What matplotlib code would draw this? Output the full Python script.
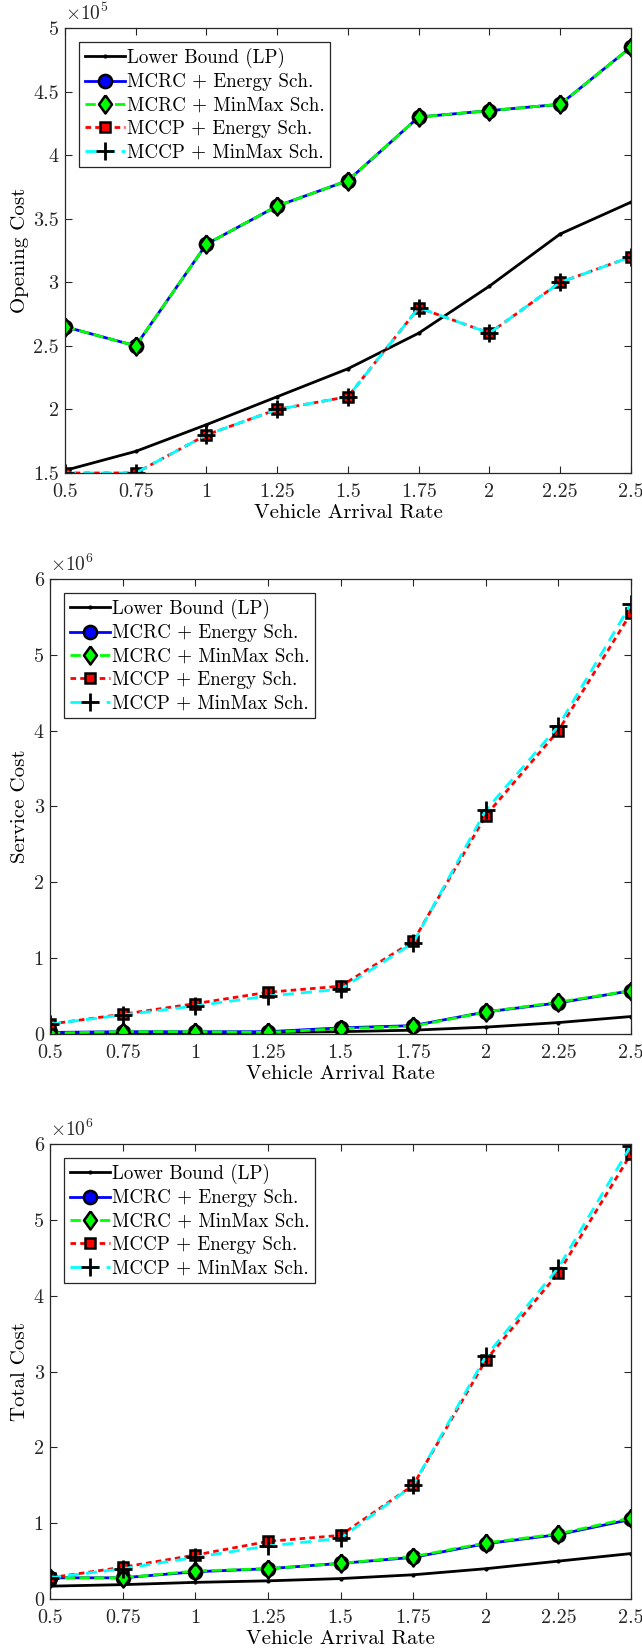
import numpy as np
import matplotlib
matplotlib.use("Agg")
import matplotlib.pyplot as plt
from matplotlib.ticker import FuncFormatter

# ========================
# STYLE
# ========================
plt.rcParams['font.family'] = ['cmr10', 'DejaVu Serif']
plt.rcParams['mathtext.fontset'] = 'cm'
plt.rcParams['axes.formatter.use_mathtext'] = True
plt.rcParams['font.size'] = 14
AX_COLOR = "#262626"

# ========================
# DATA
# ========================
rate = [0.5, 0.75, 1, 1.25, 1.5, 1.75, 2, 2.25, 2.5]
labels = ["Lower Bound (LP)", "MCRC + Energy Sch.", "MCRC + MinMax Sch.",
          "MCCP + Energy Sch.", "MCCP + MinMax Sch."]

# opening cost, x1e5
open_lp = [1.52, 1.67, 1.88, 2.10, 2.32, 2.60, 2.97, 3.38, 3.63]
open_mcrc_energy = [2.65, 2.50, 3.30, 3.60, 3.80, 4.30, 4.35, 4.40, 4.85]
open_mcrc_minmax = [2.65, 2.50, 3.30, 3.60, 3.80, 4.30, 4.35, 4.40, 4.85]
open_mccp_energy = [1.50, 1.50, 1.80, 2.00, 2.10, 2.80, 2.60, 3.00, 3.20]
open_mccp_minmax = [1.50, 1.50, 1.80, 2.00, 2.10, 2.80, 2.60, 3.00, 3.20]

# service cost, x1e6
serv_lp = [0.0, 0.01, 0.01, 0.02, 0.03, 0.05, 0.09, 0.15, 0.23]
serv_mcrc_energy = [0.02, 0.03, 0.03, 0.03, 0.08, 0.11, 0.29, 0.41, 0.57]
serv_mcrc_minmax = [0.01, 0.03, 0.03, 0.02, 0.07, 0.10, 0.29, 0.42, 0.57]
serv_mccp_energy = [0.13, 0.26, 0.40, 0.55, 0.63, 1.22, 2.88, 4.00, 5.55]
serv_mccp_minmax = [0.13, 0.25, 0.37, 0.50, 0.59, 1.20, 2.95, 4.06, 5.67]

# total cost, x1e6
tot_lp = [0.17, 0.19, 0.22, 0.24, 0.27, 0.32, 0.40, 0.50, 0.60]
tot_mcrc_energy = [0.28, 0.28, 0.36, 0.40, 0.47, 0.55, 0.73, 0.85, 1.05]
tot_mcrc_minmax = [0.28, 0.28, 0.37, 0.40, 0.47, 0.56, 0.74, 0.86, 1.07]
tot_mccp_energy = [0.28, 0.42, 0.58, 0.76, 0.84, 1.50, 3.15, 4.30, 5.87]
tot_mccp_minmax = [0.28, 0.40, 0.55, 0.70, 0.80, 1.50, 3.20, 4.37, 5.98]

panels = [
    ("Opening Cost", 5, (1.5, 5), np.arange(1.5, 5.01, 0.5),
     [open_lp, open_mcrc_energy, open_mcrc_minmax, open_mccp_energy, open_mccp_minmax]),
    ("Service Cost", 6, (0, 6), np.arange(0, 6.01, 1),
     [serv_lp, serv_mcrc_energy, serv_mcrc_minmax, serv_mccp_energy, serv_mccp_minmax]),
    ("Total Cost", 6, (0, 6), np.arange(0, 6.01, 1),
     [tot_lp, tot_mcrc_energy, tot_mcrc_minmax, tot_mccp_energy, tot_mccp_minmax]),
]

# matlab-like diamond (a bit wider than mpl's thin 'd')
DIAMOND = [(0, 1), (0.72, 0), (0, -1), (-0.72, 0), (0, 1)]

styles = [
    dict(color="black", ls="-", lw=2, marker=".", ms=4, mfc="black", mec="black"),
    dict(color="blue", ls="-", lw=2, marker="o", ms=9.5, mfc="blue", mec="black", mew=1.8),
    dict(color="#00ff00", ls="--", lw=2, marker=DIAMOND, ms=13, mfc="#00ff00", mec="black", mew=1.8),
    dict(color="red", ls=(0, (2, 1.5)), lw=2, marker="s", ms=7.5, mfc="red", mec="black", mew=1.8),
    dict(color="cyan", ls=(0, (4, 2.5)), lw=2, marker="+", ms=13, mec="black", mew=2),
]

# axes positions [left, bottom, width, height] in figure fraction
positions = [
    [0.1012, 0.7130, 0.8816, 0.2700],
    [0.0779, 0.3726, 0.9050, 0.2761],
    [0.0779, 0.0297, 0.9050, 0.2761],
]

fig = plt.figure(figsize=(6.42, 16.48), dpi=100)

for (ylabel, expo, ylim, yticks, series), pos in zip(panels, positions):
    ax = fig.add_axes(pos)
    scale = 10 ** expo
    for vals, st, lab in zip(series, styles, labels):
        ax.plot(rate, np.array(vals) * scale, label=lab, **st)

    ax.set_xlim(0.5, 2.5)
    ax.set_ylim(ylim[0] * scale, ylim[1] * scale)
    ax.set_xticks(rate)
    ax.set_xticklabels([f"{r:g}" for r in rate])
    ax.set_yticks(yticks * scale)
    ax.yaxis.set_major_formatter(FuncFormatter(lambda v, _, s=scale: f"{v / s:g}"))
    ax.text(0.0, 1.008, rf"$\times 10^{{{expo}}}$", transform=ax.transAxes,
            fontsize=14, color=AX_COLOR, ha="left", va="bottom")

    ax.set_xlabel("Vehicle Arrival Rate", fontsize=15, labelpad=2)
    ax.set_ylabel(ylabel, fontsize=15, labelpad=3)
    ax.tick_params(direction="in", top=True, right=True, length=5,
                   width=0.8, colors=AX_COLOR, labelsize=14.5)
    ax.tick_params(axis="x", pad=7.5)
    ax.tick_params(axis="y", pad=4.5)
    for sp in ax.spines.values():
        sp.set_color(AX_COLOR)
        sp.set_linewidth(0.9)

    leg = ax.legend(loc="upper left", fancybox=False, edgecolor=AX_COLOR,
                    framealpha=1, fontsize=13.7, handlelength=2.1,
                    handletextpad=0.1, labelspacing=0.28, borderpad=0.3,
                    borderaxespad=0.75)
    leg.get_frame().set_linewidth(0.9)

fig.savefig("out.png", dpi=100)
plt.close(fig)
